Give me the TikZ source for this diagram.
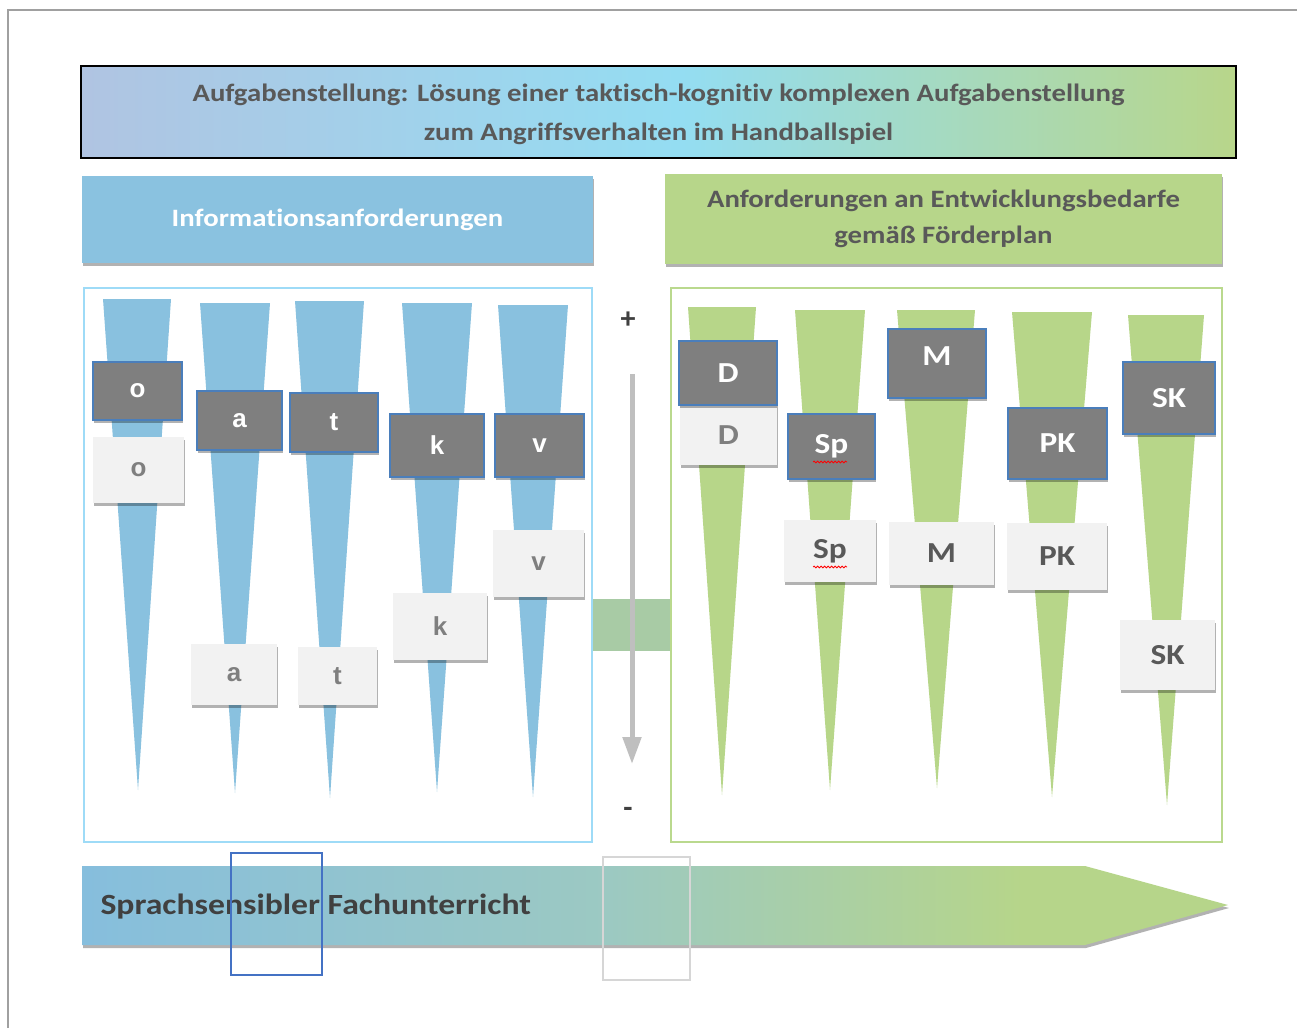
\documentclass[tikz,border=0pt]{standalone}
\usepackage{fontspec}
\setmainfont{Carlito}[Ligatures=CommonOff]
\newfontfamily\arialfont{Liberation Sans}
\usetikzlibrary{shadows,decorations.pathmorphing,arrows.meta}
\definecolor{frameg}{HTML}{A0A0A0}
\definecolor{bannerA}{HTML}{B0C4E2}
\definecolor{bannerB}{HTML}{94DDF2}
\definecolor{bannerC}{HTML}{B8D68A}
\definecolor{blueh}{HTML}{8AC2E0}
\definecolor{greenh}{HTML}{B7D68A}
\definecolor{bluew}{HTML}{89C1DF}
\definecolor{greenw}{HTML}{B7D689}
\definecolor{blueframe}{HTML}{9EDBF7}
\definecolor{greenframe}{HTML}{BAD98E}
\definecolor{darkbox}{HTML}{7F7F7F}
\definecolor{darkedge}{HTML}{4A7EBB}
\definecolor{lightbox}{HTML}{F2F2F2}
\definecolor{txtdark}{HTML}{595959}
\definecolor{txtbot}{HTML}{404040}
\definecolor{band}{HTML}{A8CBA5}
\definecolor{arrgray}{HTML}{BFBFBF}
\definecolor{arrA}{HTML}{86BEDD}
\definecolor{arrB}{HTML}{9CC9C2}
\definecolor{arrC}{HTML}{B6D58A}
\definecolor{outblue}{HTML}{4472C4}
\definecolor{outgray}{HTML}{D6D6D6}
% pgf fits the path into the middle 50bp of a 100bp shading
\pgfdeclarehorizontalshading{bannershade}{100bp}{color(0bp)=(bannerA); color(25bp)=(bannerA); color(51bp)=(bannerB); color(75bp)=(bannerC); color(100bp)=(bannerC)}
\pgfdeclarehorizontalshading{arrowshade}{100bp}{color(0bp)=(arrA); color(25bp)=(arrA); color(48bp)=(arrB); color(66bp)=(arrC); color(100bp)=(arrC)}
\newcommand{\wide}[1]{\scalebox{1.15}[1]{#1}}
\tikzset{
  softshadow/.style={drop shadow={shadow xshift=1pt, shadow yshift=-3pt, opacity=0.3, fill=black}},
  dbox/.style={fill=darkbox, draw=darkedge, line width=1.2pt, softshadow, inner sep=0pt, text=white, font=\arialfont\bfseries\fontsize{26}{28}\selectfont},
  lbox/.style={fill=lightbox, softshadow, inner sep=0pt, text=darkbox, font=\arialfont\bfseries\fontsize{26}{28}\selectfont},
  dboxr/.style={dbox, font=\bfseries\fontsize{29}{32}\selectfont},
  lboxr/.style={lbox, text=txtdark, font=\bfseries\fontsize{29}{32}\selectfont},
  lboxrl/.style={lbox, text=darkbox, font=\bfseries\fontsize{29}{32}\selectfont},
  spell/.style={draw=red, line width=0.8pt, decorate, decoration={snake, amplitude=0.9pt, segment length=3.5pt}}
}
\begin{document}
\begin{tikzpicture}[x=1pt,y=-1pt]
\useasboundingbox (0,0) rectangle (1297,1028);
\fill[white] (0,0) rectangle (1297,1028);
% outer frame
\draw[frameg, line width=1.2pt] (8,1028) -- (8,10) -- (1297,10);
% top banner
\shade[shading=bannershade] (81,66) rectangle (1236,158);
\draw[black, line width=1.8pt] (81,66) rectangle (1236,158);
\node[text=txtdark, font=\bfseries\fontsize{25}{39}\selectfont] (banner) at (658.5,113)
  {\wide{\begin{tabular}{@{}c@{}}Aufgabenstellung: Lösung einer taktisch-kognitiv komplexen Aufgabenstellung\\zum Angriffsverhalten im Handballspiel\end{tabular}}};
% headers
\node[fill=blueh, softshadow, minimum width=511pt, minimum height=87pt, inner sep=0pt,
  text=white, font=\bfseries\fontsize{25}{30}\selectfont] (hleft) at (337.5,219.5) {\wide{Informationsanforderungen}};
\node[fill=greenh, softshadow, minimum width=557pt, minimum height=90pt, inner sep=0pt,
  text=txtdark, font=\bfseries\fontsize{25}{30}\selectfont] (hright) at (943.5,219) {\wide{\raisebox{-2pt}{\begin{tabular}{@{}c@{}}Anforderungen an Entwicklungsbedarfe\\[6pt]gemäß Förderplan\end{tabular}}}};
% connecting band
\fill[band] (593,599) rectangle (671,651);
% containers
\draw[blueframe, line width=2.6pt] (84,288) rectangle (592,842);
\draw[greenframe, line width=2.6pt] (671,288) rectangle (1222,842);
% left wedges
\fill[bluew] (103,299) -- (171,299) -- (138,790) -- cycle;
\fill[bluew] (200,303) -- (270,303) -- (235,793) -- cycle;
\fill[bluew] (295,301) -- (364,301) -- (330,798) -- cycle;
\fill[bluew] (402,303) -- (472,303) -- (437,792) -- cycle;
\fill[bluew] (498,305) -- (568,305) -- (533,797) -- cycle;
% right wedges
\fill[greenw] (688,307) -- (756,307) -- (722,795) -- cycle;
\fill[greenw] (795,310) -- (865,310) -- (830,790) -- cycle;
\fill[greenw] (897,310) -- (975,310) -- (937,788) -- cycle;
\fill[greenw] (1012,312) -- (1092,312) -- (1052,797) -- cycle;
\fill[greenw] (1128,315) -- (1204,315) -- (1167,805) -- cycle;
% left light boxes
\node[lbox, minimum width=91pt, minimum height=66pt] (ol) at (138.5,470) {o};
\node[lbox, minimum width=86pt, minimum height=61pt] (al) at (234,674.5) {a};
\node[lbox, minimum width=79pt, minimum height=58pt] (tl) at (337.5,676) {t};
\node[lbox, minimum width=94pt, minimum height=67pt] (kl) at (440,626.5) {k};
\node[lbox, minimum width=91pt, minimum height=67pt] (vl) at (538.5,563.5) {v};
% left dark boxes
\node[dbox, minimum width=89pt, minimum height=58pt] (od) at (137.5,391) {o};
\node[dbox, minimum width=85pt, minimum height=59pt] (ad) at (239.5,420.5) {a};
\node[dbox, minimum width=88pt, minimum height=59pt] (td) at (334,422.5) {t};
\node[dbox, minimum width=94pt, minimum height=63pt] (kd) at (437,445.5) {k};
\node[dbox, minimum width=89pt, minimum height=63pt] (vd) at (539.5,445.5) {v};
% right light boxes
\node[lboxrl, minimum width=97pt, minimum height=60pt] (Dl) at (728.5,435) {\wide{D}};
\node[lboxr, minimum width=92pt, minimum height=62pt] (Spl) at (830,551) {\wide{Sp}};
\node[lboxr, minimum width=105pt, minimum height=63pt] (Ml) at (941.5,553.5) {\wide{M}};
\node[lboxr, minimum width=100pt, minimum height=67pt] (PKl) at (1057,556.5) {\wide{PK}};
\node[lboxr, minimum width=95pt, minimum height=70pt] (SKl) at (1167.5,655) {\wide{SK}};
% right dark boxes
\node[dboxr, minimum width=98pt, minimum height=64pt] (Dd) at (728,373) {\wide{D}};
\node[dboxr, minimum width=87pt, minimum height=65pt] (Spd) at (831.5,446.5) {\wide{Sp}};
\node[dboxr, minimum width=98pt, minimum height=69pt, text depth=14pt] (Md) at (937,363.5) {\wide{M}};
\node[dboxr, minimum width=99pt, minimum height=71pt] (PKd) at (1057.5,443.5) {\wide{PK}};
\node[dboxr, minimum width=92pt, minimum height=72pt] (SKd) at (1169,398) {\wide{SK}};
% spelling marks
\draw[spell] (813,462) -- (847,462);
\draw[spell] (813,567) -- (847,567);
% middle scale
\node[text=txtbot, font=\bfseries\fontsize{30}{32}\selectfont] (plus) at (628,320) {+};
\node[text=txtbot, font=\bfseries\fontsize{30}{32}\selectfont] (minus) at (628,812) {-};
\coordinate (arrtop) at (632,374);
\coordinate (arrbot) at (632,764);
\draw[arrgray, line width=5pt, -{Triangle[width=18pt,length=27pt]}] (arrtop) -- (arrbot);
% bottom arrow
\path[softshadow, shading=arrowshade] (82,866) -- (1085,866) -- (1228,905) -- (1085,945) -- (82,945) -- cycle;
\node[anchor=west, text=txtbot, font=\bfseries\fontsize{29.3}{33}\selectfont] (sft) at (97,907) {\wide{Sprachsensibler Fachunterricht}};
% empty outlines
\draw[outblue, line width=1.4pt] (231,853) rectangle (322,975);
\draw[outgray, line width=2pt] (603,857) rectangle (690,980);
\end{tikzpicture}
\end{document}
